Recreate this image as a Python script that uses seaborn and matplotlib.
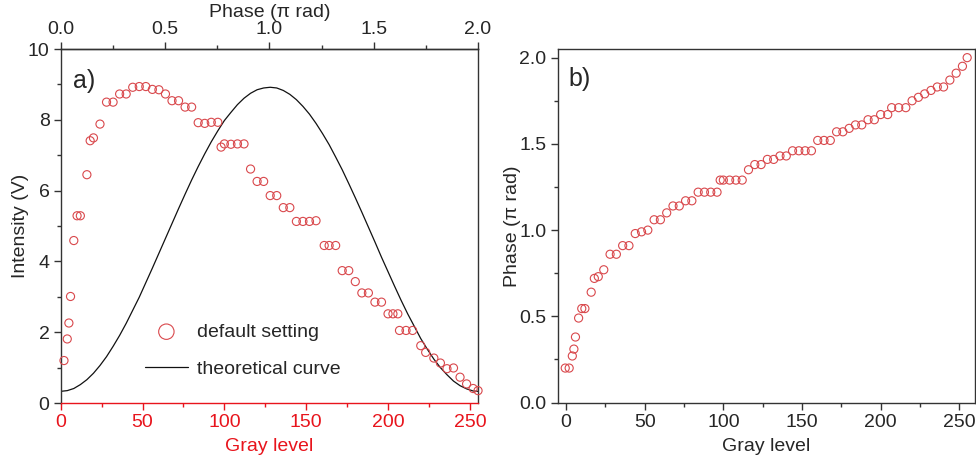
import numpy as np
import pandas as pd
import matplotlib
matplotlib.use("Agg")
import matplotlib.pyplot as plt
from matplotlib.ticker import MultipleLocator, FormatStrFormatter
import seaborn as sns

# --- data ---
# a) measured intensity vs gray level (default setting)
gray_a = [2, 4, 5, 6, 8, 10, 12, 16, 18, 20, 24, 28, 32, 36, 40, 44, 48, 52, 56, 60,
          64, 68, 72, 76, 80, 84, 88, 92, 96, 98, 100, 104, 108, 112, 116, 120, 124, 128,
          132, 136, 140, 144, 148, 152, 156, 161, 164, 168, 172, 176, 180, 184, 188, 192,
          196, 200, 203, 206, 207, 211, 215, 220, 223, 228, 232, 236, 240, 244, 248, 252, 255]
intensity_a = [1.20, 1.81, 2.26, 3.01, 4.59, 5.29, 5.29, 6.45, 7.41, 7.49, 7.88, 8.50, 8.50,
               8.73, 8.73, 8.92, 8.94, 8.94, 8.86, 8.85, 8.73, 8.54, 8.54, 8.36, 8.36, 7.92,
               7.90, 7.93, 7.93, 7.23, 7.32, 7.31, 7.32, 7.32, 6.61, 6.26, 6.26, 5.86, 5.86,
               5.52, 5.52, 5.13, 5.13, 5.13, 5.15, 4.45, 4.45, 4.45, 3.74, 3.74, 3.43, 3.11,
               3.11, 2.85, 2.85, 2.52, 2.52, 2.52, 2.05, 2.05, 2.05, 1.62, 1.43, 1.27, 1.13,
               0.97, 0.99, 0.73, 0.54, 0.41, 0.35]

# a) theoretical curve (sampled off the plot every 4 gray levels)
gray_theory = [0, 4, 8, 12, 16, 20, 24, 28, 32, 36, 40, 44, 48, 52, 56, 60, 64, 68, 72,
               76, 80, 84, 88, 92, 96, 100, 104, 108, 112, 116, 120, 124, 128, 132, 136,
               140, 144, 148, 152, 156, 160, 164, 168, 172, 176, 180, 184, 188, 192, 196,
               200, 204, 208, 212, 216, 220, 224, 228, 232, 236, 240, 244, 248, 252, 255]
intensity_theory = [0.33, 0.35, 0.41, 0.52, 0.66, 0.84, 1.06, 1.31, 1.60, 1.91, 2.25, 2.62,
                    2.99, 3.40, 3.81, 4.23, 4.65, 5.07, 5.49, 5.90, 6.30, 6.68, 7.04, 7.38,
                    7.69, 7.98, 8.21, 8.43, 8.61, 8.75, 8.85, 8.90, 8.92, 8.90, 8.83, 8.72,
                    8.57, 8.38, 8.16, 7.90, 7.61, 7.30, 6.95, 6.59, 6.20, 5.80, 5.39, 4.97,
                    4.55, 4.12, 3.71, 3.30, 2.90, 2.52, 2.17, 1.82, 1.52, 1.24, 1.00, 0.80,
                    0.62, 0.49, 0.40, 0.34, 0.33]

# b) phase vs gray level
gray_b = [-0.5, 2, 4, 5, 6, 8, 10, 12, 16, 18, 20.5, 24, 28, 32, 36, 40, 44, 48, 52, 56, 60,
          64, 68, 72, 76, 80, 84, 88, 92, 96, 98, 100, 104, 108, 112, 116, 120, 124, 128,
          132, 136, 140, 144, 148, 152, 156, 160, 164, 168, 172, 176, 180, 184, 188, 192,
          196, 200, 204.5, 207, 211.5, 216, 220, 224, 228, 232, 236, 240, 244, 248, 252, 255]
phase_b = [0.20, 0.20, 0.27, 0.31, 0.38, 0.49, 0.545, 0.545, 0.64, 0.72, 0.73, 0.77, 0.86,
           0.86, 0.91, 0.91, 0.98, 0.99, 1.00, 1.06, 1.06, 1.10, 1.14, 1.14, 1.17, 1.17,
           1.22, 1.22, 1.22, 1.22, 1.29, 1.29, 1.29, 1.29, 1.29, 1.35, 1.38, 1.38, 1.41,
           1.41, 1.43, 1.43, 1.46, 1.46, 1.46, 1.46, 1.52, 1.52, 1.52, 1.57, 1.57, 1.59,
           1.61, 1.61, 1.64, 1.64, 1.67, 1.67, 1.71, 1.71, 1.71, 1.75, 1.77, 1.79, 1.81,
           1.83, 1.83, 1.87, 1.91, 1.95, 2.00]

df_a = pd.DataFrame({"gray": gray_a, "intensity": intensity_a})
df_t = pd.DataFrame({"gray": gray_theory, "intensity": intensity_theory})
df_b = pd.DataFrame({"gray": gray_b, "phase": phase_b})

# --- style ---
sns.set_style("ticks")
plt.rcParams["font.family"] = ["Liberation Sans", "DejaVu Sans"]
plt.rcParams["font.size"] = 14
plt.rcParams["axes.linewidth"] = 1.0
plt.rcParams["axes.edgecolor"] = "#333333"

RED = "#e8141c"
MARK = "#d9484c"
FS = 14

fig = plt.figure(figsize=(9.76, 4.67), dpi=100)
ax_a = fig.add_axes([0.0622, 0.137, 0.4276, 0.758])
ax_b = fig.add_axes([0.5714, 0.138, 0.4276, 0.757])


def style_ticks(ax):
    ax.tick_params(which="major", direction="out", length=5, width=1,
                   labelsize=FS, color="#333333", pad=3)
    ax.tick_params(which="minor", direction="out", length=3, width=1, color="#333333")


# --- Panel a ---
sns.scatterplot(data=df_a, x="gray", y="intensity", ax=ax_a, marker="o", s=34,
                facecolor="none", edgecolor=MARK, linewidth=0.8,
                label="default setting", clip_on=False, zorder=3)
sns.lineplot(data=df_t, x="gray", y="intensity", ax=ax_a, color="#111111",
             linewidth=0.9, label="theoretical curve")
ax_a.set_xlim(0, 255)
ax_a.set_ylim(0, 10)
ax_a.xaxis.set_major_locator(MultipleLocator(50))
ax_a.xaxis.set_minor_locator(MultipleLocator(25))
ax_a.yaxis.set_major_locator(MultipleLocator(2))
ax_a.yaxis.set_minor_locator(MultipleLocator(1))
style_ticks(ax_a)
ax_a.tick_params(axis="x", which="both", colors=RED)
ax_a.spines["bottom"].set_color(RED)
ax_a.set_xlabel("Gray level", color=RED, fontsize=FS, labelpad=5)
ax_a.set_ylabel("Intensity (V)", fontsize=FS, labelpad=-1)
ax_a.text(0.03, 0.945, "a)", transform=ax_a.transAxes, fontsize=18, va="top")

h, l = ax_a.get_legend_handles_labels()
ax_a.legend(h, l, frameon=False, loc="upper left", bbox_to_anchor=(0.16, 0.275),
            markerscale=1.9, fontsize=FS, handlelength=2.2, labelspacing=1.0,
            handletextpad=0.5)

ax_top = ax_a.twiny()
ax_top.set_xlim(0, 2)
ax_top.xaxis.set_major_locator(MultipleLocator(0.5))
ax_top.xaxis.set_minor_locator(MultipleLocator(0.25))
ax_top.xaxis.set_major_formatter(FormatStrFormatter("%.1f"))
style_ticks(ax_top)
for side in ["bottom", "left", "right"]:
    ax_top.spines[side].set_visible(False)
ax_top.set_xlabel("Phase (\u03c0 rad)", fontsize=FS, labelpad=3)

# --- Panel b ---
sns.scatterplot(data=df_b, x="gray", y="phase", ax=ax_b, marker="o", s=34,
                facecolor="none", edgecolor=MARK, linewidth=0.8, clip_on=False, zorder=3)
ax_b.set_xlim(-5.3, 260)
ax_b.set_ylim(0, 2.05)
ax_b.xaxis.set_major_locator(MultipleLocator(50))
ax_b.xaxis.set_minor_locator(MultipleLocator(25))
ax_b.yaxis.set_major_locator(MultipleLocator(0.5))
ax_b.yaxis.set_minor_locator(MultipleLocator(0.25))
ax_b.yaxis.set_major_formatter(FormatStrFormatter("%.1f"))
style_ticks(ax_b)
ax_b.set_xlabel("Gray level", fontsize=FS, labelpad=5)
ax_b.set_ylabel("Phase (\u03c0 rad)", fontsize=FS, labelpad=-1)
ax_b.text(0.025, 0.95, "b)", transform=ax_b.transAxes, fontsize=18, va="top")

fig.savefig("out.png", dpi=100)
